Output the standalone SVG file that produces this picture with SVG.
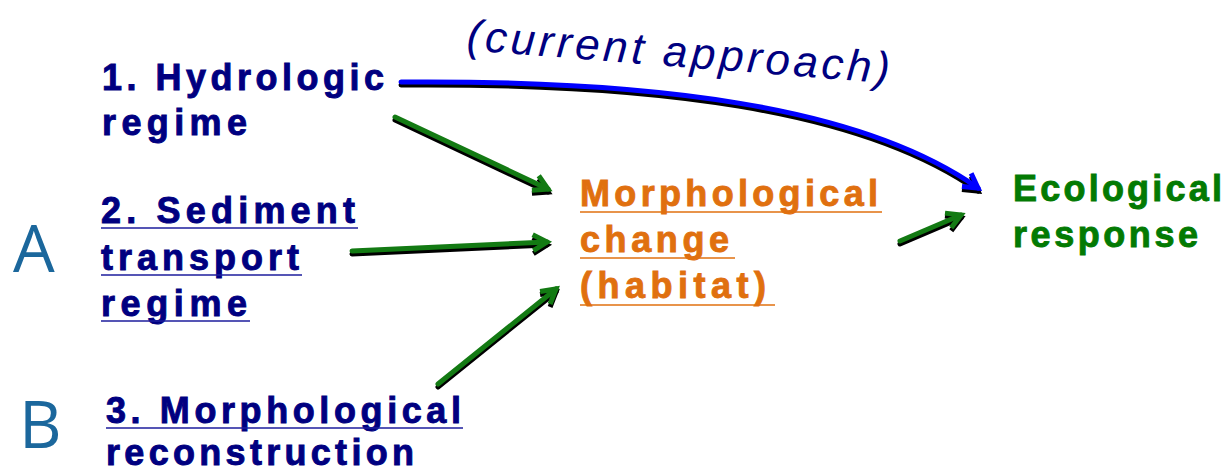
<svg xmlns="http://www.w3.org/2000/svg" width="1228" height="472" viewBox="0 0 1228 472">
<style>
.n{font-family:"Liberation Sans",Arial,sans-serif;font-weight:bold;font-size:36px;fill:#000080;stroke:#000080;stroke-width:0.9}
.o{font-family:"Liberation Sans",Arial,sans-serif;font-weight:bold;font-size:36px;fill:#e0700f;stroke:#e0700f;stroke-width:0.9}
.g{font-family:"Liberation Sans",Arial,sans-serif;font-weight:bold;font-size:36px;fill:#037a03;stroke:#037a03;stroke-width:0.9}
.u{stroke:#1c1c9c;stroke-width:1.6}
.uo{stroke:#e0700f;stroke-width:1.6}
.ab{font-family:"Open Sans","DejaVu Sans",sans-serif;font-size:66px;fill:#1b679c}
.c{fill:none;stroke-width:5;stroke-linecap:round}
.sh{stroke:#000}
.bl{stroke:#0000ff}
.gr{stroke:#137a13}
</style>
<defs>
<marker id="hb" markerUnits="userSpaceOnUse" markerWidth="40" markerHeight="40" refX="0" refY="0" viewBox="-20 -20 40 40" orient="auto" overflow="visible">
<path d="M-14,-8 L0,0 L-14,8" fill="none" stroke="#0000ff" stroke-width="5" stroke-linejoin="miter"/>
</marker>
<marker id="hg" markerUnits="userSpaceOnUse" markerWidth="40" markerHeight="40" refX="0" refY="0" viewBox="-20 -20 40 40" orient="auto" overflow="visible">
<path d="M-14,-8 L0,0 L-14,8" fill="none" stroke="#137a13" stroke-width="5" stroke-linejoin="miter"/>
</marker>
<marker id="hk" markerUnits="userSpaceOnUse" markerWidth="40" markerHeight="40" refX="0" refY="0" viewBox="-20 -20 40 40" orient="auto" overflow="visible">
<path d="M-14,-8 L0,0 L-14,8" fill="none" stroke="#000" stroke-width="5" stroke-linejoin="miter"/>
</marker>
</defs>
<rect width="1228" height="472" fill="#fff"/>

<g id="connectors">
  <g transform="translate(0,3)">
    <path class="c sh" d="M401,82 C650,80 860,105 978,188" marker-end="url(#hk)"/>
    <path class="c sh" d="M395,117 L548,189" marker-end="url(#hk)"/>
    <path class="c sh" d="M352,251 L547,242" marker-end="url(#hk)"/>
    <path class="c sh" d="M438,384 L556,289" marker-end="url(#hk)"/>
    <path class="c sh" d="M900,241 L961,215" marker-end="url(#hk)"/>
  </g>
  <path class="c bl" d="M401,82 C650,80 860,105 978,188" marker-end="url(#hb)"/>
  <path class="c gr" d="M395,117 L548,189" marker-end="url(#hg)"/>
  <path class="c gr" d="M352,251 L547,242" marker-end="url(#hg)"/>
  <path class="c gr" d="M438,384 L556,289" marker-end="url(#hg)"/>
  <path class="c gr" d="M900,241 L961,215" marker-end="url(#hg)"/>
</g>

<g id="label-current">
  <text transform="translate(466,50) rotate(4.5)" font-family="'Liberation Sans',Arial,sans-serif" font-style="italic" font-size="44" fill="#000080" textLength="424" lengthAdjust="spacing">(current approach)</text>
</g>

<g id="node-hydrologic">
  <text class="n" x="102" y="90" textLength="282" lengthAdjust="spacing">1. Hydrologic</text>
  <text class="n" x="102" y="135" textLength="145" lengthAdjust="spacing">regime</text>
</g>

<g id="node-sediment">
  <text class="n" x="101" y="223" textLength="254" lengthAdjust="spacing">2. Sediment</text>
  <line class="u" x1="101" y1="228" x2="358" y2="228"/>
  <text class="n" x="101" y="270" textLength="198" lengthAdjust="spacing">transport</text>
  <line class="u" x1="101" y1="275" x2="302" y2="275"/>
  <text class="n" x="101" y="316" textLength="146" lengthAdjust="spacing">regime</text>
  <line class="u" x1="101" y1="321" x2="250" y2="321"/>
</g>

<g id="node-reconstruction">
  <text class="n" x="106" y="423" textLength="355" lengthAdjust="spacing">3. Morphological</text>
  <line class="u" x1="106" y1="428" x2="463" y2="428"/>
  <text class="n" x="106" y="465" textLength="308" lengthAdjust="spacing">reconstruction</text>
</g>

<g id="node-morph-change">
  <text class="o" x="580" y="206" textLength="298" lengthAdjust="spacing">Morphological</text>
  <line class="uo" x1="580" y1="212" x2="882" y2="212"/>
  <text class="o" x="580" y="252" textLength="149" lengthAdjust="spacing">change</text>
  <line class="uo" x1="580" y1="258" x2="735" y2="258"/>
  <text class="o" x="580" y="298" textLength="186" lengthAdjust="spacing">(habitat)</text>
  <line class="uo" x1="580" y1="305" x2="775" y2="305"/>
</g>

<g id="node-ecological">
  <text class="g" x="1013" y="201" textLength="209" lengthAdjust="spacing">Ecological</text>
  <text class="g" x="1013" y="247" textLength="185" lengthAdjust="spacing">response</text>
</g>

<g id="label-A"><text class="ab" x="13" y="272">A</text></g>
<g id="label-B"><text class="ab" x="19" y="448">B</text></g>
</svg>
